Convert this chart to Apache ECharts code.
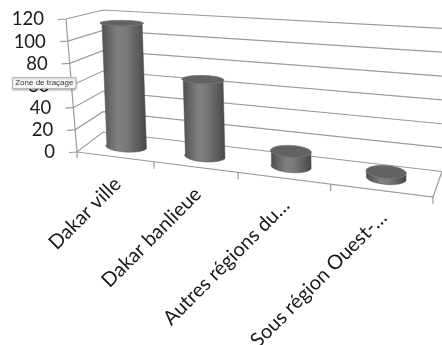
<!DOCTYPE html>
<html><head><meta charset="utf-8">
<script src="https://cdn.jsdelivr.net/npm/echarts@6/dist/echarts.min.js"></script>
<style>html,body{margin:0;padding:0;background:#fff}#c{width:442px;height:345px}</style>
</head><body><div id="c"></div>
<script>
// ---- data ----
const categories = ['Dakar ville', 'Dakar banlieue', 'Autres régions du…', 'Sous région Ouest-…'];
const values = [114, 68, 13, 5];
const yTicks = [0, 20, 40, 60, 80, 100, 120];
const yMax = 120;

// ---- 3D box (screen corners) ----
const A=[77,152], B=[66,19], C=[103,132], D=[103,10];
const E=[433,197], F=[433,40.7], G=[442,171.5], H=[442,28.3];
const K = 1.21;           // perspective along category direction
const RU = 0.057, RW = 0.25;
function persp(u){ return u / (u + K * (1 - u)); }
function lerp(p,q,t){ return [p[0]+(q[0]-p[0])*t, p[1]+(q[1]-p[1])*t]; }
function P(ue,t,w){
  const p00=lerp(A,B,t), p01=lerp(C,D,t), p10=lerp(E,F,t), p11=lerp(G,H,t);
  return lerp(lerp(p00,p01,w), lerp(p10,p11,w), ue);
}
const LINE = '#9a9a9a', LW = 1.2;
const FONT = '"Lato", "Open Sans", sans-serif';
const TXT = '#1a1a1a';

function uFromPx(cs, px){ return (px - cs.x) / cs.width; }
function tFromPy(cs, py){ return (cs.y + cs.height - py) / cs.height; }

const chart = echarts.init(document.getElementById('c'), null, {renderer:'canvas'});
chart.setOption({
  animation: false,
  grid: {left:0, right:0, top:0, bottom:0},
  xAxis: {type:'category', data: categories, show:false},
  yAxis: {type:'value', min:0, max:yMax, interval:20, show:false},
  series: [
    { // walls gridlines + value labels
      type:'custom', z:1, silent:true,
      data: yTicks.map(v => [0, v]),
      renderItem: function(params, api){
        const cs = params.coordSys;
        const v = api.value(1);
        const t = tFromPy(cs, api.coord([0, v])[1]);
        const f0 = P(0,t,0), b0 = P(0,t,1), b1 = P(1,t,1);
        return {type:'group', children:[
          {type:'polyline', shape:{points:[[f0[0]-8, f0[1]+0.5], f0, b0, b1]}, style:{stroke:LINE, lineWidth:LW, fill:null}},
          {type:'text', x:f0[0]-22, y:f0[1]+0.5, style:{text:String(v), font:'18.5px ' + FONT, fill:TXT, align:'right', verticalAlign:'middle'}}
        ]};
      }
    },
    { // floor + front-left edge + category ticks
      type:'custom', z:2, silent:true,
      data: categories.map((c,i) => [i, 0]),
      renderItem: function(params, api){
        const cs = params.coordSys;
        const i = api.value(0);
        const band = api.size([1, 0])[0];
        const px = api.coord([i, 0])[0];
        const children = [];
        const uR = persp(uFromPx(cs, px + band/2));
        const r0 = P(uR,0,0);
        children.push({type:'line', shape:{x1:r0[0], y1:r0[1], x2:r0[0], y2:r0[1]+7}, style:{stroke:LINE, lineWidth:LW}});
        if (i === 0) {
          const l0 = P(0,0,0), lt = P(0,1,0);
          children.push({type:'polyline', shape:{points:[lt, l0, [l0[0], l0[1]+6]]}, style:{stroke:LINE, lineWidth:LW, fill:null}});
          const e0 = P(1,0,0), g0 = P(1,0,1);
          children.push({type:'polyline', shape:{points:[l0, e0, g0]}, style:{stroke:LINE, lineWidth:LW, fill:null}});
        }
        return {type:'group', children};
      }
    },
    { // cylinders + category labels
      type:'custom', z:3, silent:true,
      data: values.map((v,i) => [i, v]),
      renderItem: function(params, api){
        const cs = params.coordSys;
        const i = api.value(0), v = api.value(1);
        const top = api.coord([i, v]);
        const uc = persp(uFromPx(cs, top[0]));
        const t = tFromPy(cs, top[1]);
        const N = 36;
        const front = (tt) => { const a=[]; for(let k=0;k<=N;k++){ const ang=Math.PI+Math.PI*k/N; a.push(P(uc+RU*Math.cos(ang), tt, 0.5+RW*Math.sin(ang))); } return a; };
        const full = (tt) => { const a=[]; for(let k=0;k<2*N;k++){ const ang=Math.PI*k/N; a.push(P(uc+RU*Math.cos(ang), tt, 0.5+RW*Math.sin(ang))); } return a; };
        const body = front(0).concat(front(t).reverse());
        const grad = new echarts.graphic.LinearGradient(0,0,1,0,[
          {offset:0, color:'#4c4c4c'},{offset:0.38, color:'#808080'},{offset:0.55, color:'#7b7b7b'},{offset:1, color:'#474747'}]);
        const lab = P(uc, 0, 0);
        return {type:'group', children:[
          {type:'polygon', shape:{points:body}, style:{fill:grad, stroke:'#505050', lineWidth:0.5}},
          {type:'polygon', shape:{points:full(t)}, style:{fill:'#626262', stroke:'#747474', lineWidth:0.8}},
          {type:'text', x:lab[0]+3, y:lab[1]+24, rotation:Math.PI/4,
           style:{text:categories[i], font:'20px ' + FONT, fill:TXT, align:'right', verticalAlign:'middle'}}
        ]};
      }
    },
    { // "Zone de traçage" hover tip overlay (drawn last, on top)
      type:'custom', z:10, silent:true,
      data: [[0, 0]],
      renderItem: function(){
        return {type:'group', children:[
          {type:'rect', shape:{x:12.5, y:77.5, width:63.5, height:11},
           style:{fill:'#f9f9f9', stroke:'#b8b8b8', lineWidth:1, shadowBlur:2, shadowOffsetY:1, shadowColor:'rgba(0,0,0,0.25)'}},
          {type:'text', x:44.3, y:83.2, style:{text:'Zone de traçage', font:'8px "Liberation Sans", Arial, sans-serif', fill:'#333', align:'center', verticalAlign:'middle'}}
        ]};
      }
    }
  ]
});
</script></body></html>
